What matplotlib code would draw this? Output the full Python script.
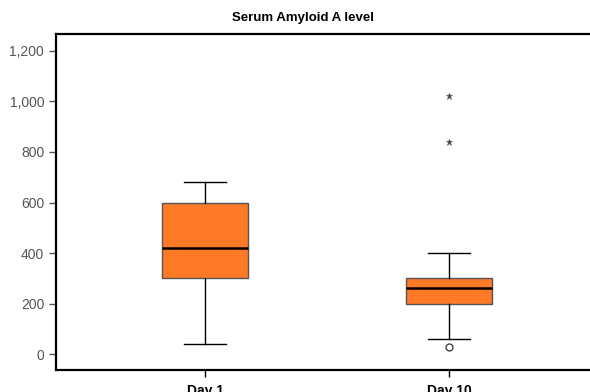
import matplotlib.pyplot as plt
from matplotlib.ticker import FuncFormatter

plt.rcParams["font.family"] = ["Liberation Sans", "DejaVu Sans"]

# summary stats
groups = ["Day 1", "Day 10"]
q1 = [300, 200]
med = [420, 260]
q3 = [600, 300]
wlo = [40, 60]
whi = [680, 400]
outliers = [[], [30]]      # circles
extremes = [[], [840, 1020]]  # stars

fig = plt.figure(figsize=(5.9, 3.92), dpi=100)
ax = fig.add_axes([56 / 590, 22 / 392, 1 - 56 / 590, 336 / 392])

stats = []
for i, g in enumerate(groups):
    stats.append(dict(label=g, q1=q1[i], med=med[i], q3=q3[i],
                      whislo=wlo[i], whishi=whi[i], fliers=outliers[i]))

ax.bxp(stats, positions=[1, 2], widths=0.35, patch_artist=True,
       showfliers=True,
       boxprops=dict(facecolor="#FF7A26", edgecolor="#555555", linewidth=1),
       medianprops=dict(color="black", linewidth=1.8),
       whiskerprops=dict(color="black", linewidth=1),
       capprops=dict(color="black", linewidth=1),
       capwidths=0.17,
       flierprops=dict(marker="o", markerfacecolor="white",
                       markeredgecolor="#444444", markersize=5))

for i, vals in enumerate(extremes):
    ax.plot([i + 1] * len(vals), vals, linestyle="none", marker="*",
            color="#444444", markersize=4.5, markeredgewidth=0.4)

ax.set_xlim(0.389, 2.578)
ax.set_ylim(-63, 1267)
ax.set_yticks([0, 200, 400, 600, 800, 1000, 1200])
ax.yaxis.set_major_formatter(FuncFormatter(lambda v, p: f"{int(v):,}"))
ax.tick_params(axis="y", colors="#555555", labelsize=10, length=5, width=1)
ax.tick_params(axis="x", length=5, width=1, labelsize=10, pad=5)
for lbl in ax.get_xticklabels():
    lbl.set_fontweight("bold")
ax.spines["right"].set_visible(False)
for s in ["left", "top", "bottom"]:
    ax.spines[s].set_linewidth(1.6)

fig.text(303 / 590, 1 - 18 / 392, "Serum Amyloid A level", ha="center",
         va="center", fontsize=9.5, fontweight="bold")

fig.savefig("out.png", dpi=100)
